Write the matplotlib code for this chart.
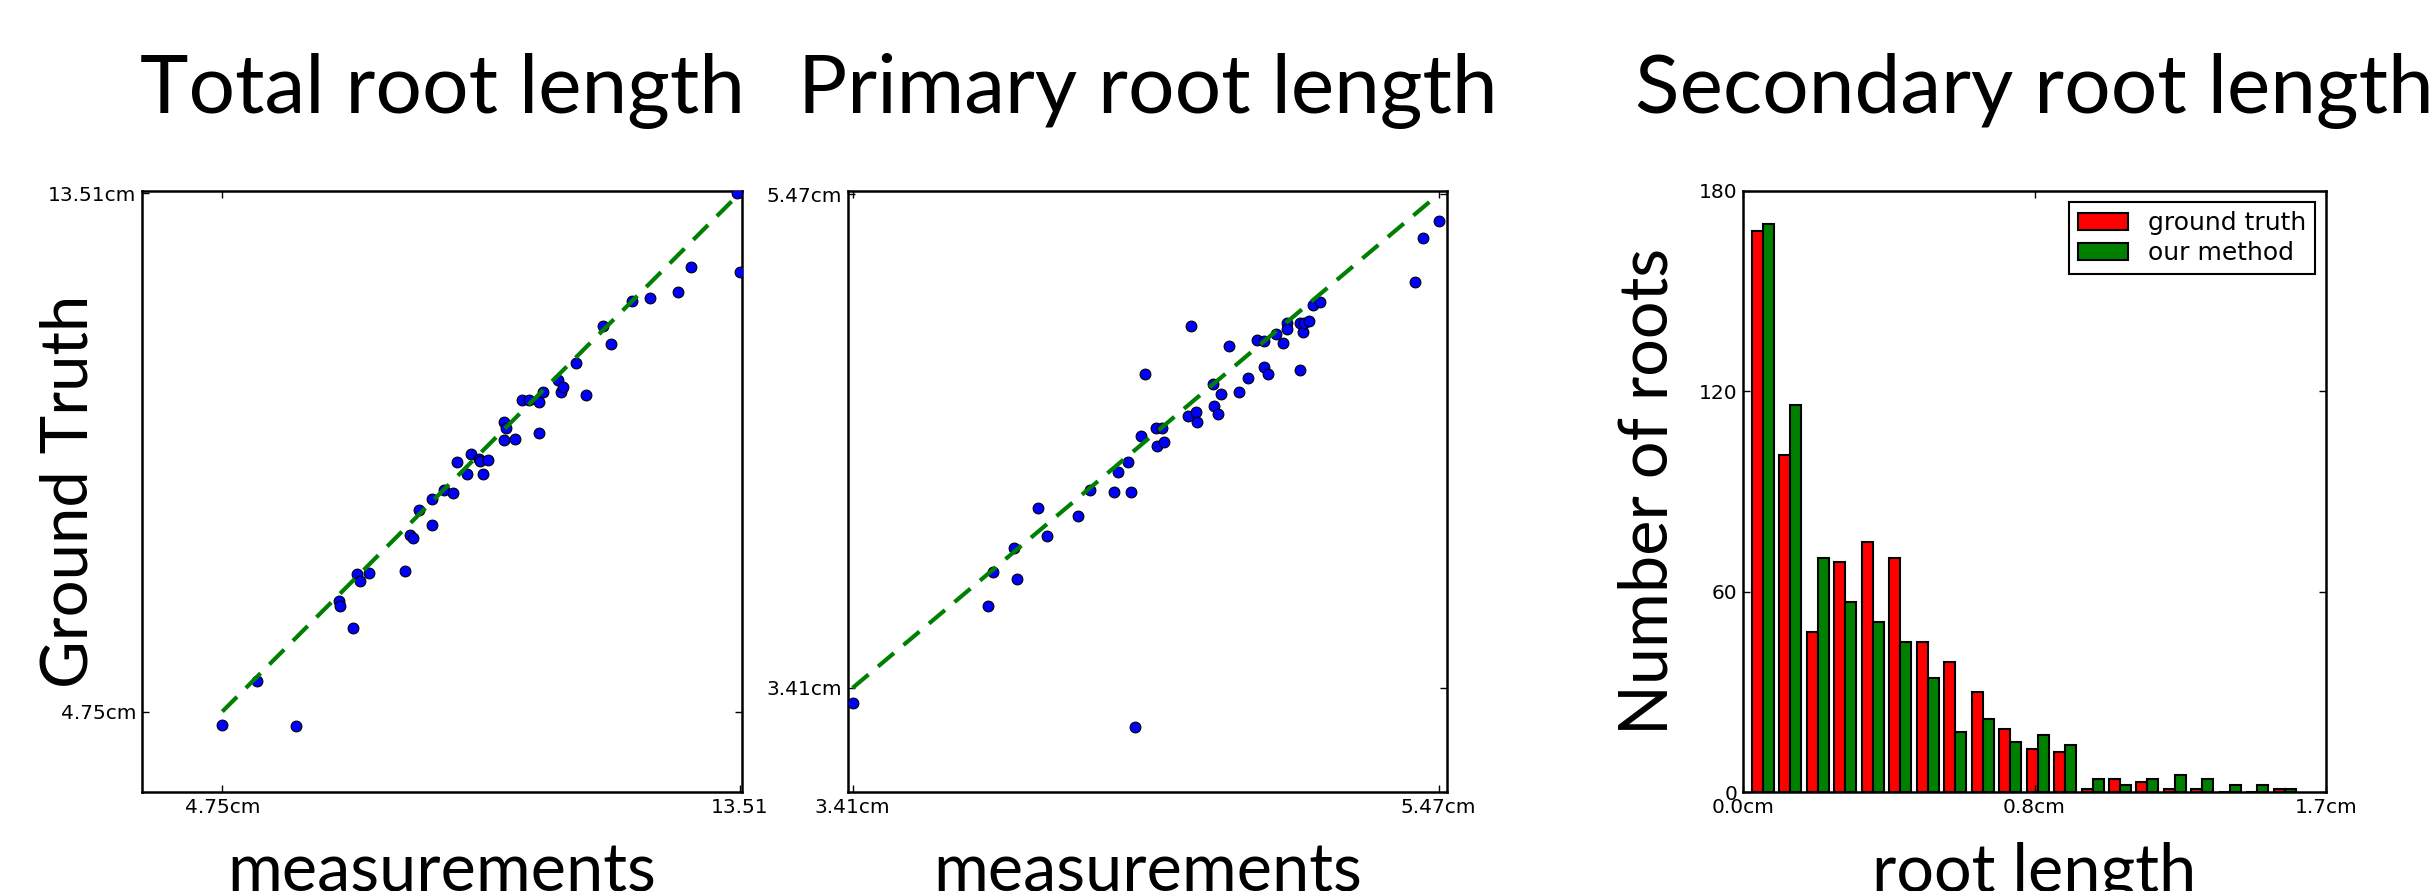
import numpy as np
import matplotlib
matplotlib.use("Agg")
import matplotlib.pyplot as plt

# total root length (cm)
total_meas = [4.75, 5.34, 5.99, 6.72, 6.74, 6.97, 7.03, 7.08, 7.23, 7.85, 7.92, 7.98,
              8.08, 8.30, 8.30, 8.51, 8.65, 8.72, 8.90, 8.96, 9.10, 9.11, 9.17, 9.25,
              9.52, 9.56, 9.52, 9.71, 9.83, 9.94, 10.12, 10.18, 10.12, 10.43, 10.48,
              10.52, 10.91, 10.74, 11.19, 11.34, 11.69, 12.00, 12.47, 12.68, 13.46, 13.51]
total_gt = [4.53, 5.26, 4.51, 6.62, 6.53, 6.17, 7.07, 6.95, 7.10, 7.13, 7.73, 7.68,
            8.16, 8.34, 7.90, 8.49, 8.45, 8.97, 8.77, 9.10, 9.02, 8.98, 8.77, 9.01,
            9.64, 9.55, 9.34, 9.35, 10.01, 10.01, 9.98, 10.15, 9.46, 10.35, 10.15,
            10.23, 10.10, 10.64, 11.27, 10.97, 11.69, 11.74, 11.85, 12.26, 13.51, 12.18]
total_range = [4.75, 13.51]

# primary root length (cm)
prim_meas = [3.413, 4.401, 3.885, 3.905, 3.987, 3.976, 4.063, 4.092, 4.203, 4.245,
             4.330, 4.390, 4.342, 4.377, 4.424, 4.437, 4.477, 4.498, 4.479, 4.506,
             4.588, 4.617, 4.621, 4.600, 4.675, 4.679, 4.695, 4.704, 4.733, 4.769,
             4.799, 4.833, 4.856, 4.856, 4.870, 4.899, 4.922, 4.935, 4.938, 4.983,
             4.994, 4.998, 5.015, 4.983, 5.027, 5.052, 5.385, 5.414, 5.470]
prim_gt = [3.347, 3.247, 3.750, 3.892, 3.865, 3.992, 4.160, 4.042, 4.126, 4.234,
           4.227, 4.227, 4.310, 4.351, 4.462, 4.720, 4.494, 4.494, 4.418, 4.436,
           4.545, 4.561, 4.519, 4.921, 4.679, 4.586, 4.554, 4.637, 4.838, 4.646,
           4.704, 4.863, 4.856, 4.747, 4.720, 4.888, 4.847, 4.932, 4.906, 4.932,
           4.895, 4.932, 4.939, 4.736, 5.006, 5.022, 5.105, 5.289, 5.356]
prim_range = [3.41, 5.47]

# secondary root length histogram
bin_edges = np.linspace(0.018, 1.62, 21)
gt_counts = [168, 101, 48, 69, 75, 70, 45, 39, 30, 19, 13, 12, 1, 4, 3, 1, 1, 0, 0, 1]
our_counts = [170, 116, 70, 57, 51, 45, 34, 18, 22, 15, 17, 14, 4, 2, 4, 5, 4, 2, 2, 1]

big = ['Lato', 'DejaVu Sans']
W, H = 2435.0, 891.0

fig = plt.figure(figsize=(24.35, 8.91), dpi=100)
ax1 = fig.add_axes([142/W, 1-792/H, 600/W, 601/H])
ax2 = fig.add_axes([848/W, 1-792/H, 599/W, 601/H])
ax3 = fig.add_axes([1743/W, 1-792/H, 583/W, 601/H])

def style(ax):
    for s in ax.spines.values():
        s.set_linewidth(1.8)
    ax.tick_params(direction='in', length=5, width=1, top=True, right=True,
                   labelsize=14.5, pad=4)

def label_axes(ax, title, xl, yl, ylx, ysize=47):
    ax.set_title(title, fontsize=59, family=big, pad=56)
    ax.set_xlabel(xl, fontsize=48, family=big, va='baseline')
    ax.xaxis.set_label_coords(0.5, -99/601)
    if yl:
        ax.set_ylabel(yl, fontsize=ysize, family=big, va='baseline')
        ax.yaxis.set_label_coords(ylx, 0.5)

# panel 1
ax1.scatter(total_meas, total_gt, s=60, c='b', edgecolors='k', linewidths=0.8, zorder=3)
ax1.plot(total_range, total_range, color=(0, 0.5, 0), ls='--', lw=3, dashes=(5, 3), zorder=4)
ax1.set_xlim(3.39, 13.55)
ax1.set_ylim(3.39, 13.55)
ax1.set_xticks(total_range)
ax1.set_xticklabels(['4.75cm', '13.51'])
ax1.set_yticks(total_range)
ax1.set_yticklabels(['4.75cm', '13.51cm'])
style(ax1)
label_axes(ax1, 'Total root length', 'measurements', 'Ground Truth', -(142-88)/600)

# panel 2
ax2.scatter(prim_meas, prim_gt, s=60, c='b', edgecolors='k', linewidths=0.8, zorder=3)
ax2.plot(prim_range, prim_range, color=(0, 0.5, 0), ls='--', lw=3, dashes=(5, 3), zorder=4)
ax2.set_xlim(3.394, 5.499)
ax2.set_ylim(2.976, 5.483)
ax2.set_xticks(prim_range)
ax2.set_xticklabels(['3.41cm', '5.47cm'])
ax2.set_yticks(prim_range)
ax2.set_yticklabels(['3.41cm', '5.47cm'])
style(ax2)
label_axes(ax2, 'Primary root length', 'measurements', None, 0)

# panel 3
bw = bin_edges[1] - bin_edges[0]
ax3.bar(bin_edges[:-1] + 0.1*bw, gt_counts, width=0.4*bw, align='edge',
        color=(1, 0, 0), edgecolor='k', linewidth=1.5, label='ground truth')
ax3.bar(bin_edges[:-1] + 0.5*bw, our_counts, width=0.4*bw, align='edge',
        color=(0, 0.5, 0), edgecolor='k', linewidth=1.5, label='our method')
ax3.set_xlim(0, 1.7)
ax3.set_ylim(0, 180)
ax3.set_xticks([0, 0.85, 1.7])
ax3.set_xticklabels(['0.0cm', '0.8cm', '1.7cm'])
ax3.set_yticks([0, 60, 120, 180])
style(ax3)
leg = ax3.legend(loc='upper right', fontsize=18, fancybox=False, framealpha=1,
                 edgecolor='k', borderpad=0.35, labelspacing=0.25, handlelength=2.0,
                 handleheight=0.65, handletextpad=0.8, borderaxespad=0.45)
leg.get_frame().set_linewidth(1.5)
label_axes(ax3, 'Secondary root length', 'root length', 'Number of roots',
           -(1743-1668)/583, ysize=48)

fig.savefig('out.png', dpi=100)
